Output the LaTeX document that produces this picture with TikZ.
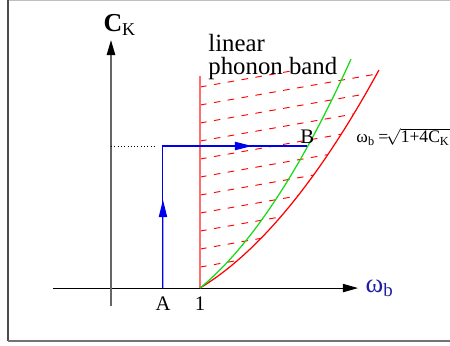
\documentclass[tikz,border=0pt]{standalone}
\usepackage{fontspec}
\setmainfont{Liberation Serif}
\usepackage{tikz}
\usetikzlibrary{arrows.meta, calc}
\definecolor{bandred}{RGB}{255,110,110}
\definecolor{pathblue}{RGB}{0,0,240}
\definecolor{labelblue}{RGB}{30,30,170}
\definecolor{curvegreen}{RGB}{20,220,20}

\begin{document}
\begin{tikzpicture}[x=1.513cm, y=2.482cm,
  axisline/.style={line width=0.5pt, -{Triangle[length=0.255cm, width=0.14cm]}},
  pathline/.style={pathblue, line width=0.5pt},
  patharrow/.style={pathblue, line width=0.5pt, -{Triangle[length=0.29cm, width=0.14cm]}},
  hatch/.style={red, line width=0.45pt, dash pattern=on 3.2pt off 3.6pt},
  lbl/.style={font=\fontsize{10}{12}\selectfont, inner sep=1pt}
]
  \useasboundingbox (-1.247,-0.390) rectangle (3.809,1.973);
  \draw[black!25, line width=0.5pt] (-1.157,1.969) -- (3.809,1.969);
  \draw[black!70, line width=1pt] (-1.157,1.973) -- (-1.157,-0.363);
  \draw[black!55, line width=1pt] (-1.157,-0.363) -- (3.809,-0.363);

  \begin{scope}
    \clip (1,0) -- (1,1.49) -- (3.011,1.49)
      -- plot[domain=3.011:1, samples=40] (\x,{(\x*\x-1)/5.4}) -- cycle;
    \foreach \k in {0,...,10}
      \draw[hatch] (1,{1.377-0.1233*\k}) -- ++(2.1,0.2247);
  \end{scope}

  \coordinate (xl) at (-0.652,0);
  \coordinate (xr) at (2.775,0);
  \coordinate (yb) at (0,-0.123);
  \coordinate (yt) at (0,1.699);
  \draw[axisline] (xl) -- (xr);
  \draw[axisline, black!60, line width=0.9pt, -{Triangle[length=0.255cm, width=0.14cm, black]}] (yb) -- (yt);

  \coordinate (one) at (1,0);
  \coordinate (bandtop) at (1,1.452);
  \draw[bandred, line width=0.9pt] (one) -- (bandtop);
  \draw[red, line width=0.6pt] plot[domain=1:3.011, samples=50] (\x,{(\x*\x-1)/5.4});
  \draw[curvegreen, line width=0.6pt] plot[domain=1:2.697, samples=50] (\x,{(\x*\x-1)/4});

  \coordinate (a) at (0.584,0);
  \coordinate (corner) at (0.584,0.973);
  \coordinate (b) at (2.206,0.973);
  \coordinate (ydot) at (0,0.973);
  \coordinate (dotend) at (0.517,0.973);
  \draw[line width=0.4pt, dash pattern=on 0.5pt off 1.1pt] (ydot) -- (dotend);
  \draw[pathline] (a) -- (corner) -- (b);
  \draw[patharrow] (a) -- ($(a)!0.62!(corner)$);
  \draw[patharrow] (corner) -- ($(corner)!0.617!(b)$);

  \node[lbl] (alabel) at (0.584,-0.11) {A};
  \node[lbl] (onelabel) at (1,-0.11) {1};
  \node[lbl, above] (blabel) at (b) {B};
  \node[font=\fontsize{12.5}{14}\selectfont] (cklabel) at (0.1,1.80) {\bfseries C\textsubscript{\normalfont K}};
  \node[anchor=base west, text=labelblue, font=\fontsize{13}{15}\selectfont] (wblabel) at (2.78,-0.03) {ω\textsubscript{b}};
  \node[anchor=west, inner sep=0pt, font=\fontsize{8.5}{10}\selectfont] (formula) at (2.753,1.034)
    {ω\textsubscript{b}\kern1.5pt=\kern-1pt$\sqrt{\mbox{1+4C\textsubscript{K}}}$};
  \node[anchor=west, align=left, inner sep=0pt, font=\fontsize{12}{11}\selectfont] (bandlabel) at (1.09,1.58)
    {linear\\phonon band};
\end{tikzpicture}
\end{document}
